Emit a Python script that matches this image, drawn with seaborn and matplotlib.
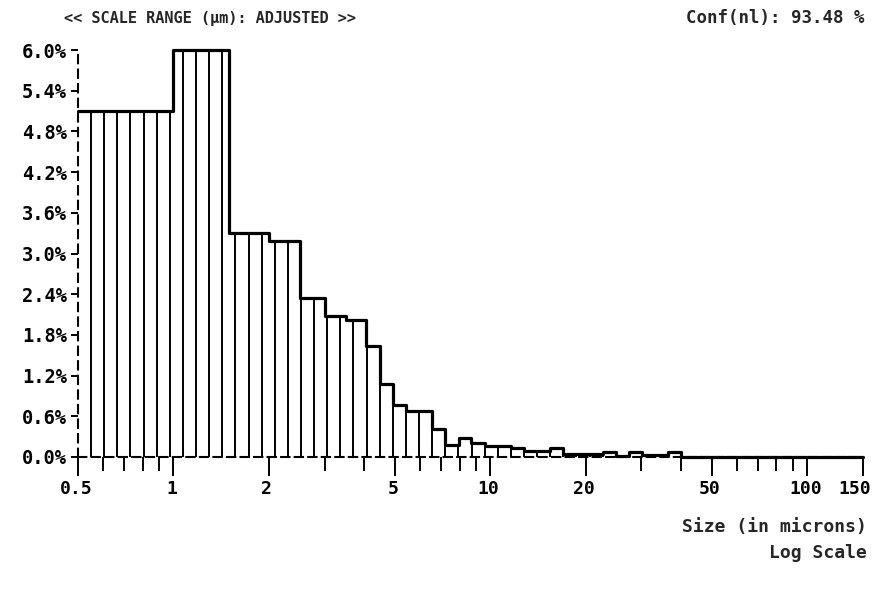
import numpy as np
import matplotlib
matplotlib.use("Agg")
import matplotlib.pyplot as plt
from matplotlib.transforms import ScaledTranslation
import seaborn as sns

# Outline channels of the size distribution (µm) and the share of each channel (%)
edges_um = [0.5, 1.0, 1.5, 2.0, 2.5, 3.0, 3.5, 4.05, 4.48, 4.92, 5.42, 6.56,
            7.21, 7.94, 8.72, 9.6, 11.6, 12.8, 15.46, 17.0, 22.6, 24.9, 27.4,
            30.1, 36.4, 40.1, 150.0]
share_pct = [5.1, 6.0, 3.30, 3.19, 2.34, 2.08, 2.02, 1.64, 1.08, 0.77, 0.68,
             0.41, 0.17, 0.28, 0.20, 0.16, 0.13, 0.09, 0.14, 0.05, 0.08, 0.01,
             0.08, 0.03, 0.08, 0.0]

# Analyzer channel grid used for the vertical fill strokes (ratio 1.1 per channel)
hatch_um = 0.5 * 1.1 ** np.arange(1, 48)

# Axis ticks and labels
y_ticks = [0.0, 0.6, 1.2, 1.8, 2.4, 3.0, 3.6, 4.2, 4.8, 5.4, 6.0]
x_major = [0.5, 1, 2, 5, 10, 20, 50, 100, 150]
x_major_labels = ["0.5", "1", "2", "5", "10", "20", "50", "100", "150"]
x_minor = [0.6, 0.7, 0.8, 0.9, 3, 4, 6, 7, 8, 9, 30, 40, 60, 70, 80, 90]

sns.set_style("ticks")
plt.rcParams["font.family"] = ["DejaVu Sans Mono", "DejaVu Sans"]
plt.rcParams["font.weight"] = "bold"

W, H = 876, 590
fig = plt.figure(figsize=(W / 100, H / 100), dpi=100)
ax = fig.add_axes([78 / W, 1 - 457 / H, 785 / W, 407 / H])
ax.set_xscale("log")

# Step outline of the distribution
step_y = share_pct + [share_pct[-1]]
sns.lineplot(x=edges_um, y=step_y, drawstyle="steps-post", color="black",
             linewidth=2.3, estimator=None, sort=False, ax=ax, clip_on=False)

# Vertical strokes filling each bar up to its outline
idx = np.searchsorted(edges_um, hatch_um, side="right") - 1
heights = np.asarray(share_pct)[idx]
keep = heights > 0
ax.vlines(hatch_um[keep], 0, heights[keep], color="black", linewidth=1.4,
          clip_on=False)

ax.set_xlim(0.5, 150)
ax.set_ylim(0, 6.0)

for side in ("top", "right"):
    ax.spines[side].set_visible(False)
ax.spines["left"].set_linestyle((0, (4, 3)))
ax.spines["bottom"].set_linestyle((0, (4, 2.5)))
for side in ("left", "bottom"):
    ax.spines[side].set_color("black")
    ax.spines[side].set_linewidth(1.5)

ax.set_xticks(x_major)
ax.set_xticklabels(x_major_labels)
ax.set_xticks(x_minor, minor=True)
ax.set_xticklabels([], minor=True)
ax.set_yticks(y_ticks)
ax.set_yticklabels([f"{v:.1f}%" for v in y_ticks])

ax.tick_params(axis="x", which="major", direction="out", length=14, width=1.4,
               pad=2.5, labelsize=13, colors="black")
ax.tick_params(axis="x", which="minor", direction="out", length=10, width=1.4,
               colors="black")
ax.tick_params(axis="y", direction="out", length=5, width=1.4, pad=3,
               labelsize=13.5, colors="black")
ax.set_xlabel("")
ax.set_ylabel("")

# Nudge the x tick labels slightly left, the last one a bit more to stay inside
for lab in ax.get_xticklabels():
    shift = -8 if lab.get_text() == "150" else -2
    lab.set_transform(lab.get_transform()
                      + ScaledTranslation(shift / 100, 0, fig.dpi_scale_trans))

fig.text(210 / W, 1 - 18 / H, "<< SCALE RANGE (µm): ADJUSTED >>",
         ha="center", va="center", fontsize=11)
fig.text(864 / W, 1 - 18 / H, "Conf(nl): 93.48 %", ha="right", va="center",
         fontsize=12.5)
fig.text(867 / W, 1 - 527 / H, "Size (in microns)", ha="right", va="center",
         fontsize=13)
fig.text(867 / W, 1 - 553 / H, "Log Scale", ha="right", va="center",
         fontsize=13)

fig.savefig("out.png", dpi=100, facecolor="white")
